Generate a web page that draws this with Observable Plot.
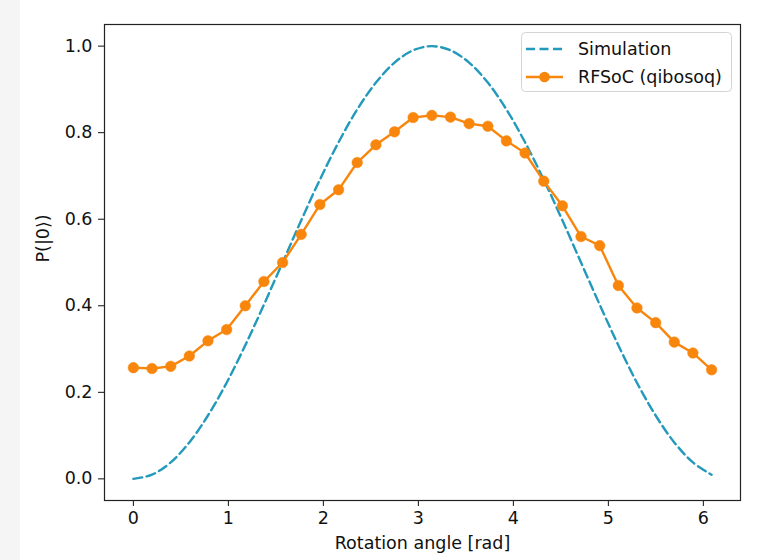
<!DOCTYPE html>
<html>
<head>
<meta charset="utf-8">
<script src="https://cdn.jsdelivr.net/npm/d3@7"></script>
<script src="https://cdn.jsdelivr.net/npm/@observablehq/plot@0.6"></script>
<style>
  html, body { margin: 0; padding: 0; background: #fff; }
  #wrap { position: relative; width: 772px; height: 560px; overflow: hidden; }
  #strip { position: absolute; left: 0; top: 0; width: 20px; height: 560px; background: #f5f5f5; }
  #chart { position: absolute; left: 0; top: 0; }
</style>
</head>
<body>
<div id="wrap"><div id="strip"></div><div id="chart"></div></div>
<script>
// Rotation angles [rad] (32 points, 0 .. 6.087)
const angles = [0, 0.196, 0.393, 0.589, 0.785, 0.982, 1.178, 1.374, 1.571, 1.767, 1.963, 2.160,
  2.356, 2.553, 2.749, 2.945, 3.142, 3.338, 3.534, 3.731, 3.927, 4.123, 4.320, 4.516,
  4.712, 4.909, 5.105, 5.301, 5.498, 5.694, 5.890, 6.087];
// Simulation P(|0>)
const simulation = [0, 0.0096, 0.0381, 0.0843, 0.1464, 0.2222, 0.3087, 0.4025, 0.5, 0.5975, 0.6913, 0.7778,
  0.8536, 0.9157, 0.9619, 0.9904, 1.0, 0.9904, 0.9619, 0.9157, 0.8536, 0.7778, 0.6913, 0.5975,
  0.5, 0.4025, 0.3087, 0.2222, 0.1464, 0.0843, 0.0381, 0.0096];
// Measured RFSoC (qibosoq) P(|0>)
const rfsoc = [0.257, 0.255, 0.260, 0.284, 0.319, 0.345, 0.400, 0.456, 0.500, 0.565, 0.634, 0.668,
  0.731, 0.772, 0.802, 0.835, 0.840, 0.836, 0.821, 0.815, 0.781, 0.753, 0.688, 0.631,
  0.560, 0.539, 0.447, 0.395, 0.361, 0.316, 0.291, 0.252];
const xTicks = [0, 1, 2, 3, 4, 5, 6];
const yTicks = [0, 0.2, 0.4, 0.6, 0.8, 1.0];
const seriesNames = ["Simulation", "RFSoC (qibosoq)"];
const xLabel = "Rotation angle [rad]";
const yLabel = "P(|0\u27E9)";

const simColor = "#2399bb";
const expColor = "#f8860d";
const FS = 17.5;

const simData = angles.map((a, i) => ({x: a, y: simulation[i]}));
const expData = angles.map((a, i) => ({x: a, y: rfsoc[i]}));

const chart = Plot.plot({
  width: 772,
  height: 560,
  marginLeft: 104,
  marginRight: 32,
  marginTop: 24,
  marginBottom: 60,
  style: {fontFamily: "DejaVu Sans", fontSize: FS + "px", color: "#111", background: "transparent"},
  x: {domain: [-0.304, 6.391], ticks: xTicks, tickFormat: d3.format("d"), tickSize: 6, tickPadding: 5, label: null},
  y: {domain: [-0.05, 1.05], ticks: yTicks, tickFormat: d3.format(".1f"), tickSize: 6, tickPadding: 6, label: null},
  marks: [
    Plot.line(simData, {x: "x", y: "y", stroke: simColor, strokeWidth: 2.4, strokeDasharray: "9,4.5", curve: "catmull-rom"}),
    Plot.line(expData, {x: "x", y: "y", stroke: expColor, strokeWidth: 2.4}),
    Plot.dot(expData, {x: "x", y: "y", r: 5.3, fill: expColor, stroke: expColor, strokeWidth: 0.5}),
    Plot.frame({stroke: "#222", strokeWidth: 1.2}),
    Plot.text([xLabel], {frameAnchor: "bottom", dy: 48, text: d => d, fontSize: FS, fill: "#111"}),
    Plot.text([yLabel], {frameAnchor: "left", dx: -61, rotate: -90, text: d => d, fontSize: FS, fill: "#111"})
  ]
});
document.getElementById("chart").appendChild(chart);

// Legend (matplotlib-style, upper right)
const svg = d3.select(chart);
const lg = svg.append("g").attr("font-family", "DejaVu Sans").attr("font-size", FS).attr("text-anchor", "start");
lg.append("rect").attr("x", 521.5).attr("y", 32.5).attr("width", 210).attr("height", 59).attr("rx", 4)
  .attr("fill", "#fff").attr("fill-opacity", 0.85).attr("stroke", "#d4d4d4");
const rows = [49, 77];
lg.append("line").attr("x1", 526).attr("x2", 563).attr("y1", rows[0]).attr("y2", rows[0])
  .attr("stroke", simColor).attr("stroke-width", 2.4).attr("stroke-dasharray", "9,4.5");
lg.append("line").attr("x1", 526).attr("x2", 563).attr("y1", rows[1]).attr("y2", rows[1])
  .attr("stroke", expColor).attr("stroke-width", 2.4);
lg.append("circle").attr("cx", 544.5).attr("cy", rows[1]).attr("r", 5.3).attr("fill", expColor);
seriesNames.forEach((n, i) => {
  lg.append("text").attr("x", 578).attr("y", rows[i]).attr("dy", "0.35em").attr("fill", "#111").text(n);
});
</script>
</body>
</html>
